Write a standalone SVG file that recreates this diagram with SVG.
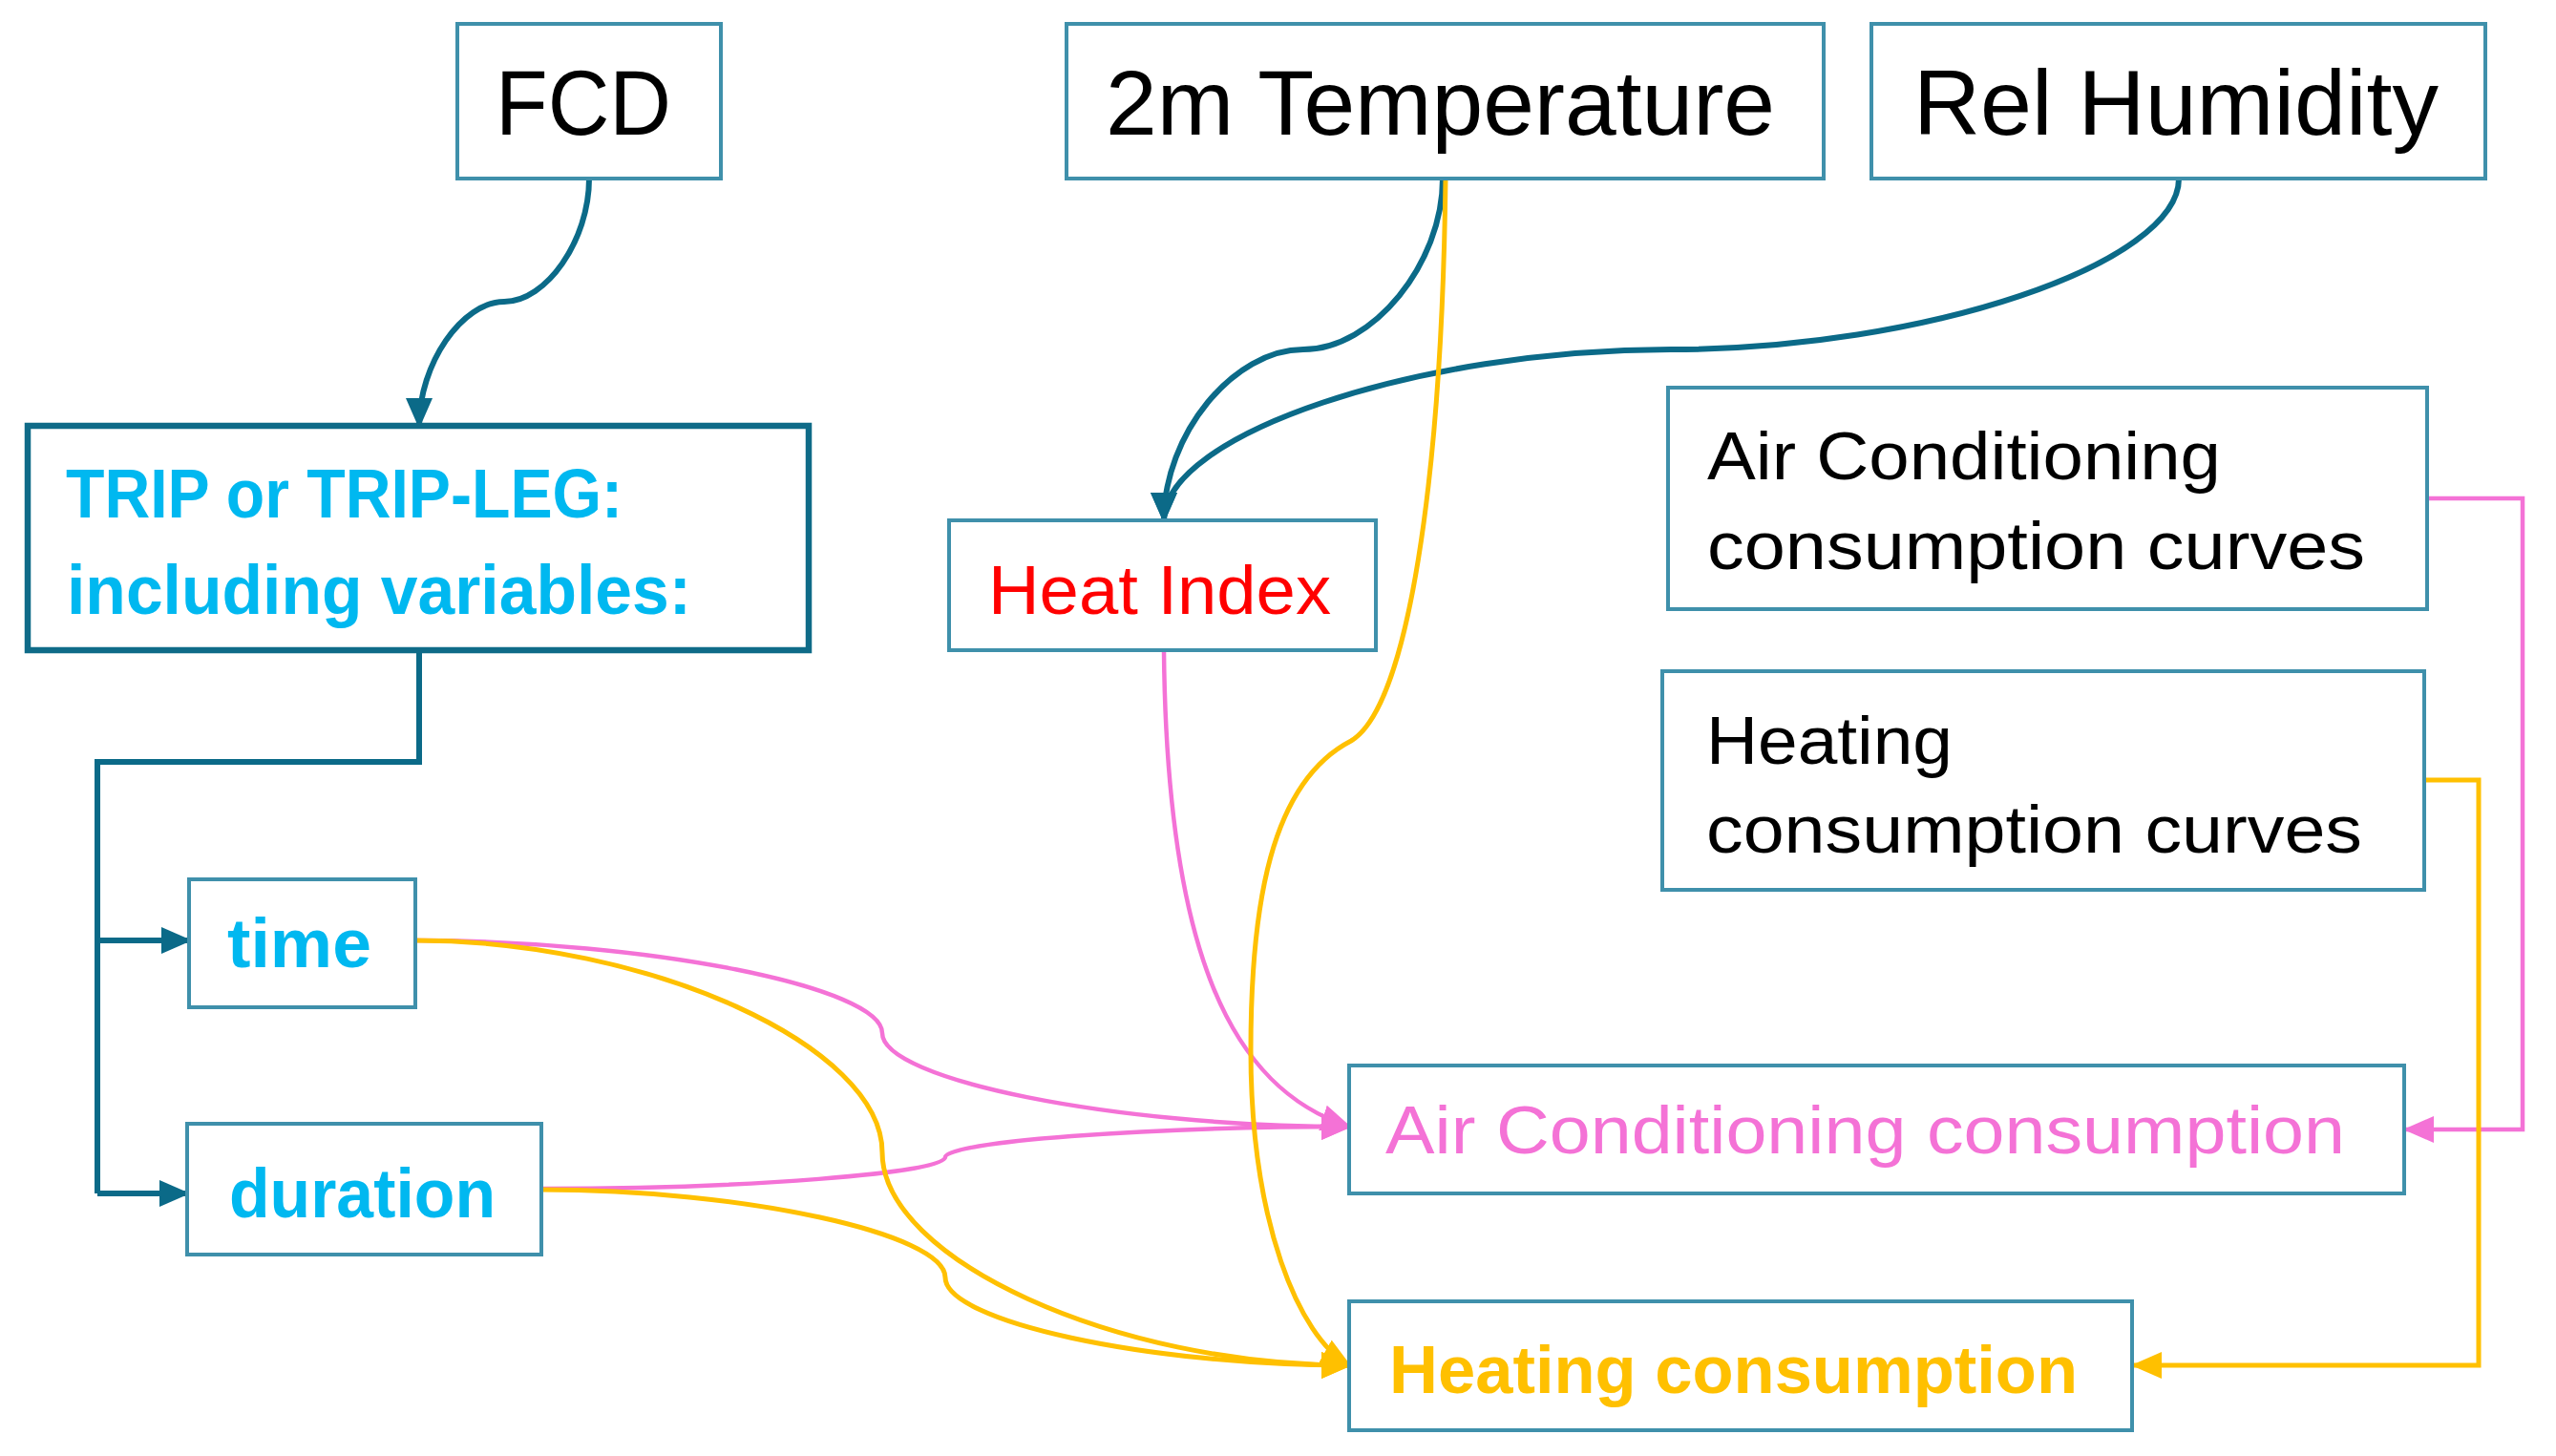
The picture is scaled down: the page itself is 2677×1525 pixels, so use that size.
<svg xmlns="http://www.w3.org/2000/svg" width="2677" height="1525" viewBox="0 0 2677 1525">
<style>
.box{fill:#fff;stroke:#3F90AB;stroke-width:4}
.boxb{fill:#fff;stroke:#0F6B88;stroke-width:6.5}
.t{font-family:"Liberation Sans",Arial,sans-serif}
.hdr{font-size:96px;fill:#000}
.blk{font-size:70px;fill:#000}
.cy{font-size:72px;fill:#00B8F0;font-weight:bold}
.teal{fill:none;stroke:#0B6A88;stroke-width:6}
.pink{fill:none;stroke:#F472D6;stroke-width:4.5}
.yel{fill:none;stroke:#FFC000;stroke-width:5}
</style>
<defs>
<marker id="aT" markerUnits="userSpaceOnUse" markerWidth="32" markerHeight="28" refX="29" refY="14" orient="auto"><path d="M0,0 L32,14 L0,28 z" fill="#0B6A88"/></marker>
<marker id="aP" markerUnits="userSpaceOnUse" markerWidth="32" markerHeight="28" refX="29" refY="14" orient="auto"><path d="M0,0 L32,14 L0,28 z" fill="#F472D6"/></marker>
<marker id="aY" markerUnits="userSpaceOnUse" markerWidth="32" markerHeight="28" refX="29" refY="14" orient="auto"><path d="M0,0 L32,14 L0,28 z" fill="#FFC000"/></marker>
</defs>
<rect width="2677" height="1525" fill="#fff"/>

<g id="connectors">
<path class="teal" marker-end="url(#aT)" d="M617,187 C617,252 572,316 528,316 C484,316 439,381 439,446"/>
<path class="teal" d="M439,681 L439,798 L102,798 L102,1250"/>
<path class="teal" marker-end="url(#aT)" d="M102,985 L198,985"/>
<path class="teal" marker-end="url(#aT)" d="M102,1250 L196,1250"/>
<path class="teal" marker-end="url(#aT)" d="M1511,187 C1511,276 1438,366 1365,366 C1292,366 1219,455 1219,545"/>
<path class="teal" marker-end="url(#aT)" d="M2282,187 C2282,276 2016,366 1750,366 C1485,366 1219,455 1219,545"/>
<path class="pink" marker-end="url(#aP)" d="M1219,681 C1222,1000 1290,1140 1413,1180"/>
<path class="pink" marker-end="url(#aP)" d="M435,985 C680,985 924,1034 924,1082 C924,1131 1168,1180 1413,1180"/>
<path class="pink" marker-end="url(#aP)" d="M567,1245 C778,1245 990,1229 990,1212 C990,1196 1201,1180 1413,1180"/>
<path class="pink" marker-end="url(#aP)" d="M2542,522 L2642,522 L2642,1183 L2520,1183"/>
<path class="yel" marker-end="url(#aY)" d="M1514,187 C1510,500 1475,740 1415,776 C1330,820 1310,950 1310,1100 C1310,1280 1360,1400 1413,1430"/>
<path class="yel" marker-end="url(#aY)" d="M435,985 C680,985 924,1096 924,1207 C924,1319 1168,1430 1413,1430"/>
<path class="yel" marker-end="url(#aY)" d="M567,1246 C778,1246 990,1292 990,1338 C990,1384 1201,1430 1413,1430"/>
<path class="yel" marker-end="url(#aY)" d="M2539,817 L2596,817 L2596,1430 L2235,1430"/>
</g>

<g id="fcd"><rect class="box" x="479" y="25" width="276" height="162"/>
<text class="t hdr" x="519" y="141" textLength="184" lengthAdjust="spacingAndGlyphs">FCD</text></g>

<g id="temp"><rect class="box" x="1117" y="25" width="793" height="162"/>
<text class="t hdr" x="1158" y="141" textLength="701" lengthAdjust="spacingAndGlyphs">2m Temperature</text></g>

<g id="relhum"><rect class="box" x="1960" y="25" width="643" height="162"/>
<text class="t hdr" x="2004" y="141" textLength="550" lengthAdjust="spacingAndGlyphs">Rel Humidity</text></g>

<g id="trip"><rect class="boxb" x="29" y="446" width="818" height="235"/>
<text class="t cy" x="69" y="542" textLength="583" lengthAdjust="spacingAndGlyphs">TRIP or TRIP-LEG:</text>
<text class="t cy" x="70" y="643" textLength="654" lengthAdjust="spacingAndGlyphs">including variables:</text></g>

<g id="heatindex"><rect class="box" x="994" y="545" width="447" height="136"/>
<text class="t" x="1035" y="643" font-size="72" fill="#FF0000" textLength="359" lengthAdjust="spacingAndGlyphs">Heat Index</text></g>

<g id="accurves"><rect class="box" x="1747" y="406" width="795" height="232"/>
<text class="t blk" x="1788" y="502" textLength="538" lengthAdjust="spacingAndGlyphs">Air Conditioning</text>
<text class="t blk" x="1788" y="596" textLength="689" lengthAdjust="spacingAndGlyphs">consumption curves</text></g>

<g id="heatcurves"><rect class="box" x="1741" y="703" width="798" height="229"/>
<text class="t blk" x="1787" y="800" textLength="258" lengthAdjust="spacingAndGlyphs">Heating</text>
<text class="t blk" x="1787" y="893" textLength="687" lengthAdjust="spacingAndGlyphs">consumption curves</text></g>

<g id="time"><rect class="box" x="198" y="921" width="237" height="134"/>
<text class="t cy" x="238" y="1013" textLength="151" lengthAdjust="spacingAndGlyphs">time</text></g>

<g id="duration"><rect class="box" x="196" y="1177" width="371" height="137"/>
<text class="t cy" x="240" y="1275" textLength="279" lengthAdjust="spacingAndGlyphs">duration</text></g>

<g id="accons"><rect class="box" x="1413" y="1116" width="1105" height="134"/>
<text class="t" x="1451" y="1208" font-size="70" fill="#F472D6" textLength="1005" lengthAdjust="spacingAndGlyphs">Air Conditioning consumption</text></g>

<g id="heatcons"><rect class="box" x="1413" y="1363" width="820" height="135"/>
<text class="t" x="1455" y="1459" font-size="70" font-weight="bold" fill="#FFC000" textLength="721" lengthAdjust="spacingAndGlyphs">Heating consumption</text></g>
</svg>
